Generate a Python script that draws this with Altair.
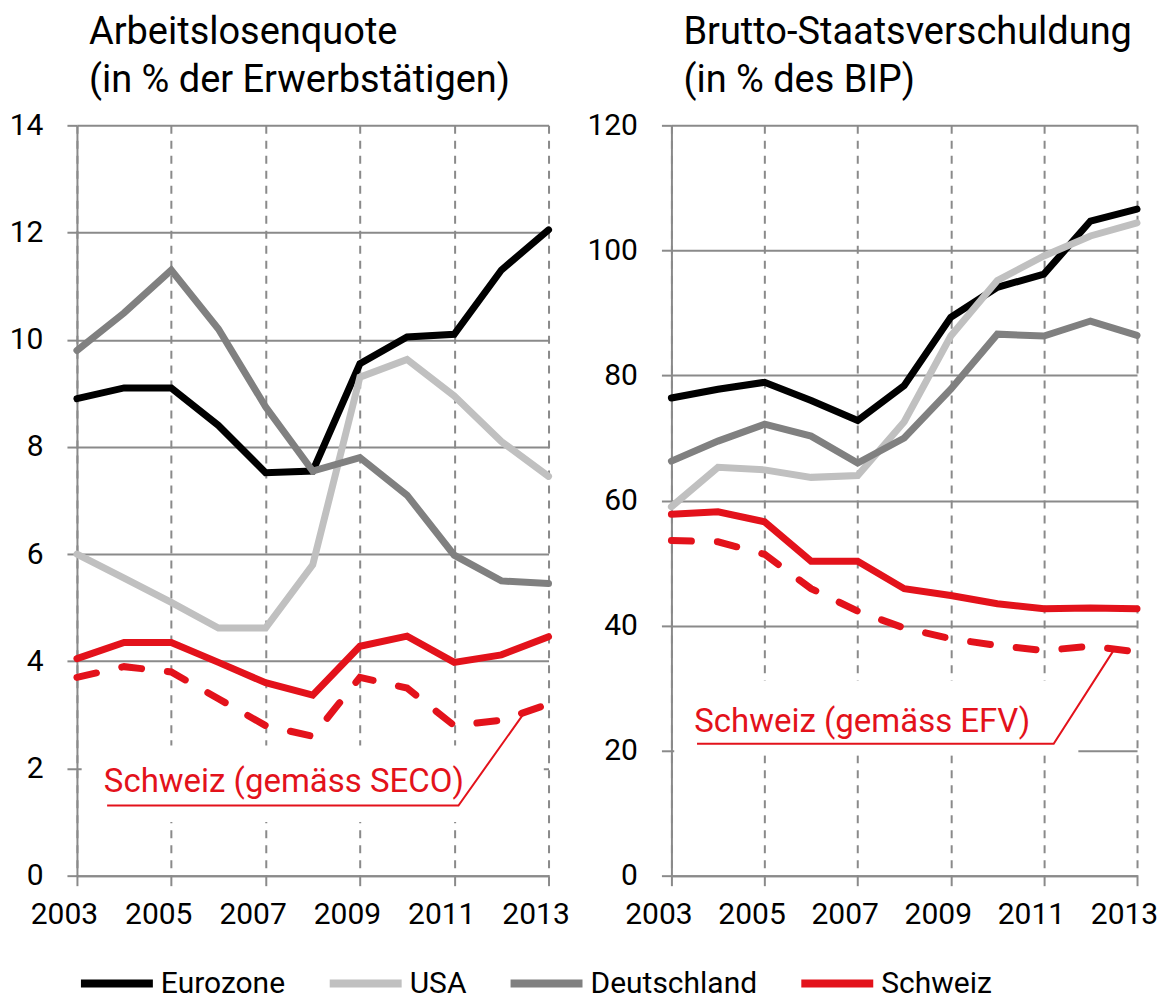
import altair as alt
import pandas as pd

FONT = "Roboto, sans-serif"

years = list(range(2003, 2014))
series_names = ["Eurozone", "USA", "Deutschland", "Schweiz"]
series_colors = ["#000000", "#c0c0c0", "#808080", "#e3121b"]

# Arbeitslosenquote (in % der Erwerbstätigen)
alq_eurozone = [8.9, 9.1, 9.1, 8.4, 7.52, 7.55, 9.55, 10.05, 10.1, 11.3, 12.05]
alq_usa = [6.0, 5.55, 5.1, 4.62, 4.62, 5.8, 9.3, 9.63, 8.95, 8.1, 7.45]
alq_deutschland = [9.8, 10.5, 11.3, 10.2, 8.75, 7.55, 7.8, 7.1, 5.98, 5.5, 5.45]
alq_schweiz = [4.05, 4.35, 4.35, 3.98, 3.6, 3.37, 4.28, 4.47, 3.98, 4.12, 4.46]
alq_schweiz_seco = [3.7, 3.9, 3.8, 3.3, 2.8, 2.6, 3.7, 3.5, 2.8, 2.9, 3.2]

# Brutto-Staatsverschuldung (in % des BIP)
debt_eurozone = [76.4, 77.8, 78.9, 76.0, 72.8, 78.4, 89.3, 94.1, 96.2, 104.7, 106.6]
debt_usa = [59.0, 65.3, 64.9, 63.7, 64.0, 72.6, 86.3, 95.2, 99.1, 102.3, 104.4]
debt_deutschland = [66.3, 69.5, 72.2, 70.3, 66.0, 70.0, 77.8, 86.6, 86.3, 88.7, 86.4]
debt_schweiz = [57.8, 58.2, 56.6, 50.3, 50.3, 45.9, 44.8, 43.5, 42.7, 42.8, 42.7]
debt_schweiz_efv = [53.6, 53.4, 51.4, 45.9, 42.3, 39.6, 37.9, 36.8, 36.0, 36.7, 35.8]

x_ticks = [2003, 2005, 2007, 2009, 2011, 2013]
alq_ticks = [0, 2, 4, 6, 8, 10, 12, 14]
debt_ticks = [0, 20, 40, 60, 80, 100, 120]

# annotations (data coordinates)
alq_note = "Schweiz (gemäss SECO)"
alq_note_pos = (2003.57, 1.57)
alq_box = (2003.1, 2012.9, 1.0, 2.43)
alq_leader_x = [2003.64, 2011.09, 2012.47]
alq_leader_y = [1.31, 1.31, 3.02]

debt_note = "Schweiz (gemäss EFV)"
debt_note_pos = (2003.49, 23.0)
debt_box = (2003.06, 2011.74, 19.2, 31.2)
debt_leader_x = [2003.55, 2011.21, 2012.49]
debt_leader_y = [21.1, 21.1, 35.95]


def long_df(values_list):
    rows = []
    for name, vals in zip(series_names, values_list):
        for yr, v in zip(years, vals):
            rows.append({"year": yr, "value": v, "series": name})
    return pd.DataFrame(rows)


def panel(lines, dashed, ymax, yticks, title, note, note_pos, box, lx, ly, width):
    df = long_df(lines)
    ddf = pd.DataFrame({"year": years, "value": dashed})
    x = alt.X("year:Q", title=None,
              scale=alt.Scale(domain=[2003, 2013], nice=False, zero=False),
              axis=alt.Axis(values=x_ticks, format="d", gridDash=[8, 7],
                            labelOffset=-13, labelOverlap=False,
                            labelFlush=False))
    y = alt.Y("value:Q", title=None,
              scale=alt.Scale(domain=[0, ymax], nice=False),
              axis=alt.Axis(values=yticks, labelOverlap=False))

    box_df = pd.DataFrame({"x": [box[0]], "x2": [box[1]], "y": [box[2]], "y2": [box[3]]})
    rect = alt.Chart(box_df).mark_rect(fill="white").encode(
        x=alt.X("x:Q", scale=alt.Scale(domain=[2003, 2013], nice=False, zero=False)),
        x2="x2:Q",
        y=alt.Y("y:Q", scale=alt.Scale(domain=[0, ymax], nice=False)),
        y2="y2:Q",
    )

    lines_layer = alt.Chart(df).mark_line(strokeWidth=7, strokeCap="round",
                                          strokeJoin="miter").encode(
        x=x, y=y,
        color=alt.Color("series:N",
                        scale=alt.Scale(domain=series_names, range=series_colors),
                        sort=series_names,
                        legend=alt.Legend(title=None, orient="bottom",
                                          direction="horizontal",
                                          symbolType="stroke", symbolSize=5184,
                                          symbolStrokeWidth=8, labelFontSize=30,
                                          labelFont=FONT, labelColor="black",
                                          labelLimit=0,
                                          labelOffset=4, columnPadding=28,
                                          offset=14)),
        order=alt.Order("year:Q"),
    )

    dash_layer = alt.Chart(ddf).mark_line(strokeWidth=7, strokeCap="round",
                                          strokeDash=[20, 26],
                                          color="#e3121b").encode(x=x, y=y)

    leader_df = pd.DataFrame({"year": lx, "value": ly, "i": [0, 1, 2]})
    leader = alt.Chart(leader_df).mark_line(strokeWidth=2, color="#e3121b").encode(
        x=x, y=y, order="i:Q")

    text_df = pd.DataFrame({"year": [note_pos[0]], "value": [note_pos[1]], "t": [note]})
    text = alt.Chart(text_df).mark_text(align="left", baseline="alphabetic",
                                        fontSize=33, font=FONT,
                                        color="#e3121b").encode(
        x=x, y=y, text="t:N")

    return alt.layer(rect, lines_layer, dash_layer, leader, text).properties(
        width=width, height=751,
        title=alt.TitleParams(text=title, anchor="start", frame="group", dx=12,
                              fontSize=38, font=FONT, fontWeight="normal",
                              color="black", lineHeight=48, offset=10),
    )


left = panel([alq_eurozone, alq_usa, alq_deutschland, alq_schweiz],
             alq_schweiz_seco, 14, alq_ticks,
             ["Arbeitslosenquote", "(in % der Erwerbstätigen)"],
             alq_note, alq_note_pos, alq_box, alq_leader_x, alq_leader_y, 472)

right = panel([debt_eurozone, debt_usa, debt_deutschland, debt_schweiz],
              debt_schweiz_efv, 120, debt_ticks,
              ["Brutto-Staatsverschuldung", "(in % des BIP)"],
              debt_note, debt_note_pos, debt_box, debt_leader_x, debt_leader_y, 466)

chart = alt.hconcat(left, right, spacing=123, bounds="flush").configure(
    font=FONT, padding={"left": 1, "top": 6, "right": 0, "bottom": 0}
).configure_view(stroke=None).configure_axis(
    labelFont=FONT, labelFontSize=30, labelColor="black",
    gridColor="#8a8a8a", gridWidth=2, domainColor="#8a8a8a", domainWidth=2,
    tickColor="#8a8a8a", tickWidth=2, tickSize=10,
).configure_axisY(
    labelPadding=24, grid=True,
).configure_axisX(
    labelPadding=14, grid=True,
)

chart.save("out.html", embed_options={"renderer": "svg", "actions": False})
